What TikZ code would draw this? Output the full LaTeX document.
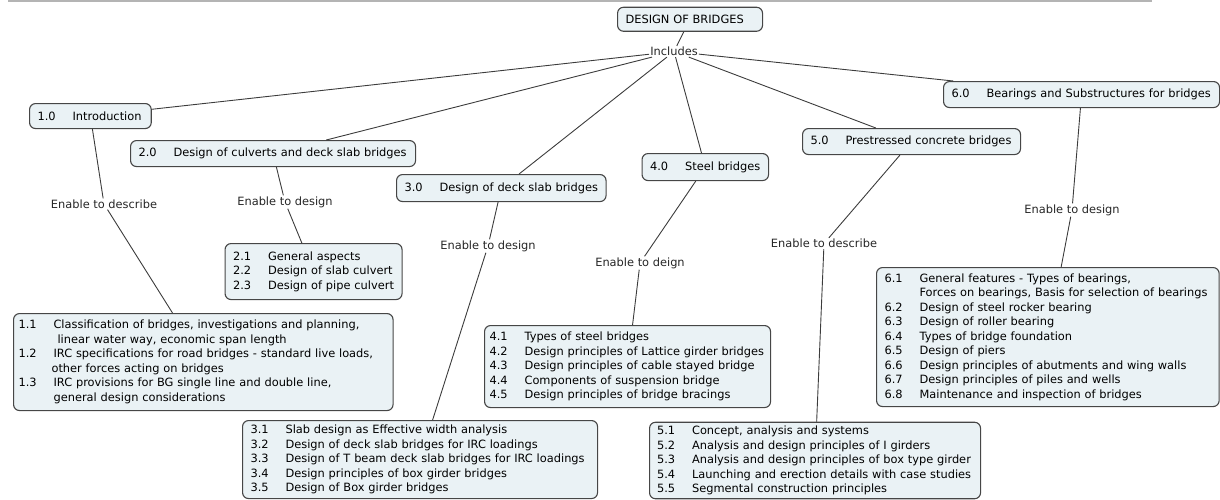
\documentclass[tikz,border=0pt]{standalone}
\usepackage{fontspec}
\setmainfont{DejaVu Sans}
\definecolor{boxfill}{RGB}{234,242,245}
\definecolor{bordergray}{RGB}{70,70,70}
\definecolor{linegray}{RGB}{60,60,60}
\definecolor{topline}{RGB}{180,180,180}
\newcommand\fs{\fontsize{11.4}{14.5}\selectfont}
\newcommand\itm[2]{\mbox{\makebox[35pt][l]{#1}#2}}
\newcommand\ctn[2][35pt]{\mbox{\hspace*{#1}#2}}
\tikzset{
  concept/.style={draw=bordergray, line width=1.1pt, rounded corners=6pt, fill=boxfill,
    inner xsep=8pt, inner ysep=0pt, align=left, anchor=north west, font=\fs},
  lab/.style={inner sep=1pt, font=\fs, text=black!85},
  conn/.style={draw=linegray, line width=0.9pt},
}
\begin{document}
\begin{tikzpicture}[x=1pt,y=-1pt]
\useasboundingbox (0,0) rectangle (1220,499);
\draw[topline, line width=1.5pt] (8,1) -- (1152,1);

% main concepts
\node[concept, text width=129pt, minimum height=24pt] (n0) at (617,6.7) {DESIGN OF BRIDGES};
\node[concept, text width=105.7pt, minimum height=25pt] (n1) at (29,103) {\itm{1.0}{Introduction}};
\node[concept, text width=269pt, minimum height=26pt] (n2) at (130,140) {\itm{2.0}{Design of culverts and deck slab bridges}};
\node[concept, text width=193.5pt, minimum height=27pt] (n3) at (396,174) {\itm{3.0}{Design of deck slab bridges}};
\node[concept, text width=110.5pt, minimum height=27pt] (n4) at (641.5,153) {\itm{4.0}{Steel bridges}};
\node[concept, text width=202pt, minimum height=26pt] (n5) at (802,128) {\itm{5.0}{Prestressed concrete bridges}};
\node[concept, text width=260pt, minimum height=26pt] (n6) at (943,81) {\itm{6.0}{Bearings and Substructures for bridges}};

% lists
\node[concept, inner xsep=5pt, text width=369.5pt, minimum height=97pt] (l1) at (13,313) {%
\itm{1.1}{Classification of bridges, investigations and planning,}\\
\ctn[39pt]{linear water way, economic span length}\\
\itm{1.2}{IRC specifications for road bridges - standard live loads,}\\
\ctn[33pt]{other forces acting on bridges}\\
\itm{1.3}{IRC provisions for BG single line and double line,}\\
\ctn[35pt]{general design considerations}};
\node[concept, text width=161pt, minimum height=56pt] (l2) at (224.5,243) {%
\itm{2.1}{General aspects}\\
\itm{2.2}{Design of slab culvert}\\
\itm{2.3}{Design of pipe culvert}};
\node[concept, text width=339pt, minimum height=78pt] (l3) at (242,420) {%
\itm{3.1}{Slab design as Effective width analysis}\\
\itm{3.2}{Design of deck slab bridges for IRC loadings}\\
\itm{3.3}{Design of T beam deck slab bridges for IRC loadings}\\
\itm{3.4}{Design principles of box girder bridges}\\
\itm{3.5}{Design of Box girder bridges}};
\node[concept, inner xsep=5pt, text width=276pt, minimum height=82pt] (l4) at (484,325) {%
\itm{4.1}{Types of steel bridges}\\
\itm{4.2}{Design principles of Lattice girder bridges}\\
\itm{4.3}{Design principles of cable stayed bridge}\\
\itm{4.4}{Components of suspension bridge}\\
\itm{4.5}{Design principles of bridge bracings}};
\node[concept, inner xsep=7.5pt, text width=316pt, minimum height=76.5pt] (l5) at (649,421.7) {%
\itm{5.1}{Concept, analysis and systems}\\
\itm{5.2}{Analysis and design principles of I girders}\\
\itm{5.3}{Analysis and design principles of box type girder}\\
\itm{5.4}{Launching and erection details with case studies}\\
\itm{5.5}{Segmental construction principles}};
\node[concept, text width=326.6pt, minimum height=139pt] (l6) at (876,267) {%
\itm{6.1}{General features - Types of bearings,}\\
\ctn{Forces on bearings, Basis for selection of bearings}\\
\itm{6.2}{Design of steel rocker bearing}\\
\itm{6.3}{Design of roller bearing}\\
\itm{6.4}{Types of bridge foundation}\\
\itm{6.5}{Design of piers}\\
\itm{6.6}{Design principles of abutments and wing walls}\\
\itm{6.7}{Design principles of piles and wells}\\
\itm{6.8}{Maintenance and inspection of bridges}};

% linking phrases
\node[lab] (inc) at (674,51.5) {Includes};
\node[lab] (e1) at (104,204) {Enable to describe};
\node[lab] (e2) at (285,202) {Enable to design};
\node[lab] (e3) at (488,246) {Enable to design};
\node[lab] (e4) at (640,263) {Enable to deign};
\node[lab] (e5) at (824,243.5) {Enable to describe};
\node[lab] (e6) at (1072,210) {Enable to design};

% connectors
\draw[conn] (n0) -- (inc);
\foreach \t in {n1,n2,n3,n4,n5,n6} \draw[conn] (inc) -- (\t);
\draw[conn] (n1) -- (e1); \draw[conn] (e1) -- (l1);
\draw[conn] (n2) -- (e2); \draw[conn] (e2) -- (l2);
\draw[conn] (n3) -- (e3); \draw[conn] (e3) -- (l3);
\draw[conn] (n4) -- (e4); \draw[conn] (e4) -- (l4);
\draw[conn] (n5) -- (e5); \draw[conn] (e5) -- (l5);
\draw[conn] (n6) -- (e6); \draw[conn] (e6) -- (l6);
\end{tikzpicture}
\end{document}
